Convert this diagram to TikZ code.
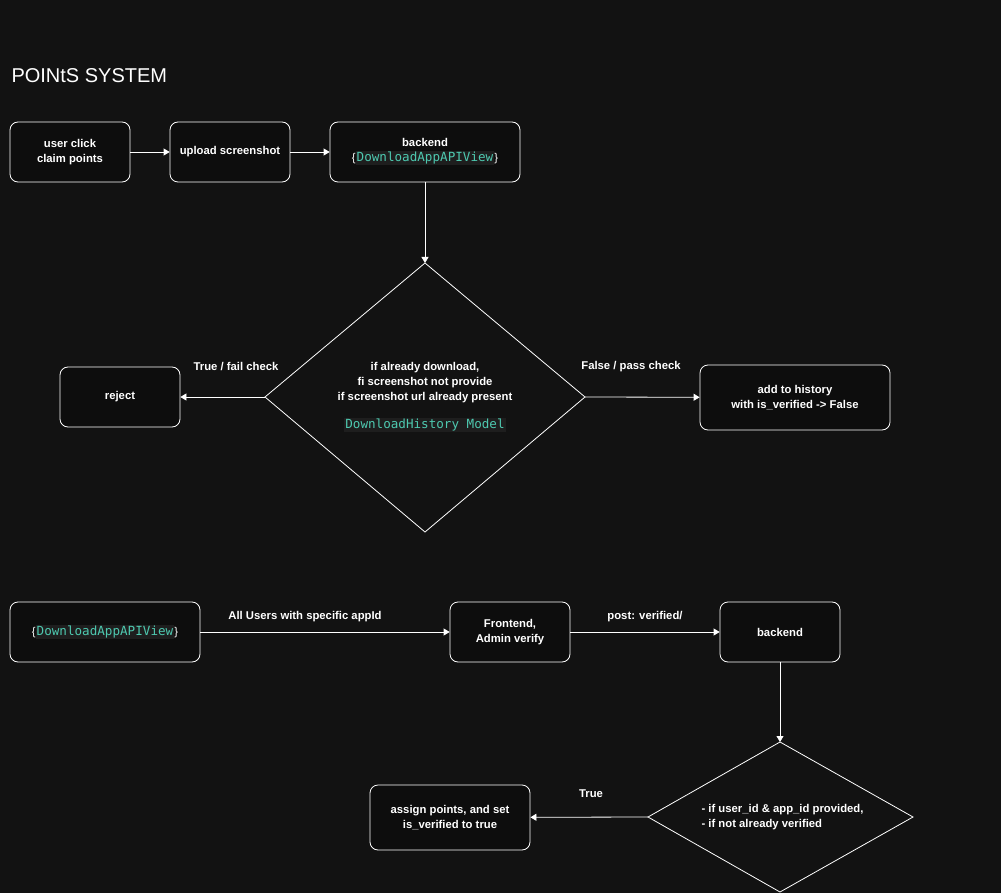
\documentclass[tikz,border=0pt]{standalone}
\usepackage{fontspec}
\setmainfont{Liberation Sans}
\newfontfamily\codefont{DejaVu Sans Mono}
\usetikzlibrary{shapes.geometric,arrows.meta}
\definecolor{bg}{HTML}{121212}
\definecolor{codebg}{HTML}{1E1E1E}
\definecolor{codefg}{HTML}{4EC9B0}
\newcommand{\code}[1]{{\fontsize{12.6}{15}\codefont\colorbox{codebg}{\textcolor{codefg}{#1}}}}
\setlength{\fboxsep}{1pt}
\tikzset{
  box/.style={draw=white, fill=black!95, rounded corners=8pt, line width=0.8pt, text=white, align=center, font=\fontsize{11.3}{15}\selectfont\bfseries, inner sep=0pt},
  dia/.style={draw=white, line width=0.8pt, text=white},
  arr/.style={draw=white, line width=0.8pt, -{Triangle[width=7pt,length=6pt]}},
  lbl/.style={text=white, font=\fontsize{11.3}{15}\selectfont\bfseries}
}
\begin{document}
\begin{tikzpicture}[x=1pt,y=-1pt]
\useasboundingbox[fill=bg] (0,0) rectangle (1001,893);
\node[text=white, font=\fontsize{20}{24}\selectfont, anchor=west] (title) at (8,76) {POINtS SYSTEM};

\node[box, minimum width=120pt, minimum height=60pt] (b1) at (70,152) {user click\\claim points};
\node[box, minimum width=120pt, minimum height=60pt] (b2) at (230,152) {upload screenshot};
\node[box, minimum width=190pt, minimum height=60pt] (b3) at (425,152) {backend\\\mdseries\{\code{DownloadAppAPIView}\}};

\draw[arr] (b1) -- (b2);
\draw[arr] (b2) -- (b3);

\coordinate (dt) at (425,263);
\coordinate (db) at (425,532);
\coordinate (dl) at (265,397);
\coordinate (dr) at (585,397);
\draw[dia] (dt) -- (dr) -- (db) -- (dl) -- cycle;
\node[lbl, align=center] (dtext) at (425,383) {if already download,\\fi screenshot not provide\\if screenshot url already present};
\node (dcode) at (425,425) {\code{DownloadHistory Model}};

\draw[arr] (b3) -- (dt);

\node[box, minimum width=120pt, minimum height=60pt] (rej) at (120,397) {reject};
\node[box, minimum width=190pt, minimum height=65pt] (hist) at (795,397.5) {add to history\\with is\_verified -> False};

\draw[arr] (dl) -- (rej);
\draw[arr] (dr) -- (hist);
\node[lbl] (l1) at (236,367) {True / fail check};
\node[lbl] (l2) at (631,367) {False / pass check};

% bottom
\node[box, minimum width=190pt, minimum height=60pt] (a1) at (105,632) {\mdseries\{\code{DownloadAppAPIView}\}};
\node[box, minimum width=120pt, minimum height=60pt] (fe) at (510,632) {Frontend,\\Admin verify};
\node[box, minimum width=120pt, minimum height=60pt] (be) at (780,632) {backend};

\draw[arr] (a1) -- (fe);
\draw[arr] (fe) -- (be);
\node[lbl] (l3) at (305,617) {All Users with specific appId};
\node[lbl] (l4) at (645,617) {post: verified/};

\coordinate (et) at (780,742);
\coordinate (eb) at (780,892);
\coordinate (el) at (648,817);
\coordinate (er) at (913,817);
\draw[dia] (et) -- (er) -- (eb) -- (el) -- cycle;
\node[lbl, align=left, anchor=west] (etext) at (698,817) {- if user\_id \& app\_id provided,\\- if not already verified};

\draw[arr] (be) -- (et);

\node[box, minimum width=160pt, minimum height=65pt] (as) at (450,817.5) {assign points, and set\\is\_verified to true};
\draw[arr] (el) -- (as);
\node[lbl] (l5) at (591,794) {True};
\end{tikzpicture}
\end{document}
